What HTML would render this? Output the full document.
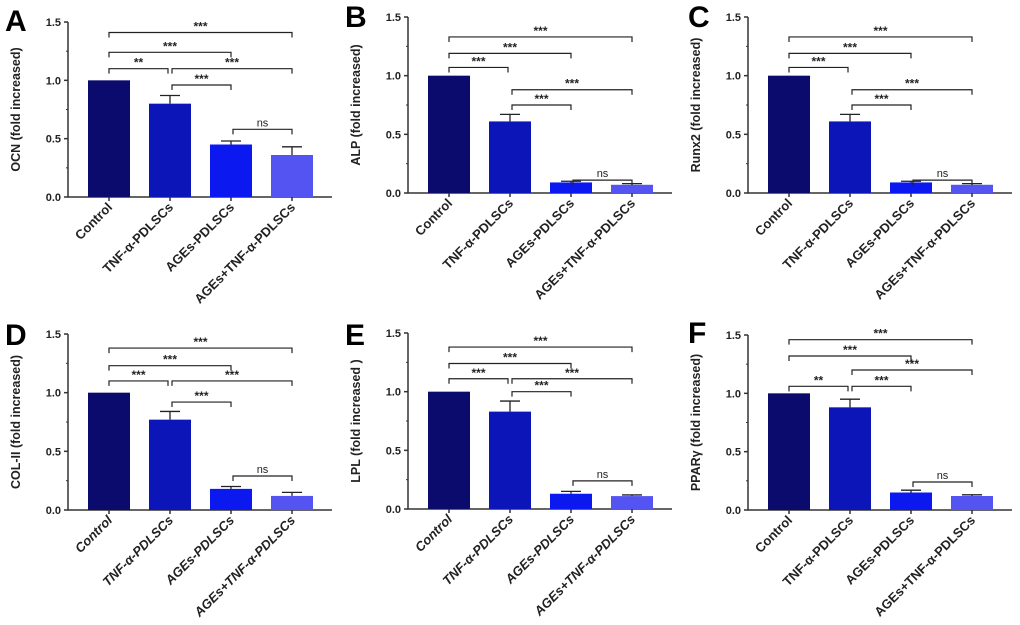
<!DOCTYPE html>
<html><head><meta charset="utf-8"><style>
body{margin:0;background:#fff;width:1020px;height:620px;overflow:hidden}
svg{font-family:"Liberation Sans",Arial,sans-serif;font-weight:bold}
</style></head><body>
<svg id="fig" width="1020" height="620" viewBox="0 0 1020 620" xmlns="http://www.w3.org/2000/svg"></svg>
<script>
const categories=["Control","TNF-α-PDLSCs","AGEs-PDLSCs","AGEs+TNF-α-PDLSCs"];
const colors=["#0b0b6e","#0c16b8","#0c18f0","#5454f2"];
const yTicks=[0,0.5,1.0,1.5];
const yTickLabels=["0.0","0.5","1.0","1.5"];
const letters=["A","B","C","D","E","F"];
const yTitles=["OCN (fold increased)","ALP (fold increased)","Runx2 (fold increased)","COL-II (fold increased)","LPL (fold increased )","PPARγ (fold increased)"];
const meansA=[1.0,0.80,0.45,0.36], errA=[0,0.07,0.03,0.07];
const meansB=[1.0,0.61,0.09,0.07], errB=[0,0.06,0.01,0.01];
const meansC=[1.0,0.61,0.09,0.07], errC=[0,0.06,0.01,0.01];
const meansD=[1.0,0.77,0.18,0.12], errD=[0,0.07,0.02,0.03];
const meansE=[1.0,0.83,0.13,0.11], errE=[0,0.09,0.02,0.01];
const meansF=[1.0,0.88,0.15,0.12], errF=[0,0.07,0.02,0.01];
// brackets: [from, to, level, label]
const brA=[[0,3,1.41,"***"],[0,2,1.24,"***"],[0,1,1.10,"**"],[1,3,1.10,"***"],[1,2,0.96,"***"],[2,3,0.58,"ns"]];
const brB=[[0,3,1.33,"***"],[0,2,1.19,"***"],[0,1,1.07,"***"],[1,3,0.88,"***"],[1,2,0.75,"***"],[2,3,0.11,"ns"]];
const brC=[[0,3,1.33,"***"],[0,2,1.19,"***"],[0,1,1.07,"***"],[1,3,0.88,"***"],[1,2,0.75,"***"],[2,3,0.11,"ns"]];
const brD=[[0,3,1.38,"***"],[0,2,1.23,"***"],[0,1,1.10,"***"],[1,3,1.10,"***"],[1,2,0.92,"***"],[2,3,0.29,"ns"]];
const brE=[[0,3,1.38,"***"],[0,2,1.24,"***"],[0,1,1.11,"***"],[1,3,1.11,"***"],[1,2,1.00,"***"],[2,3,0.24,"ns"]];
const brF=[[0,3,1.46,"***"],[0,2,1.32,"***"],[0,1,1.06,"**"],[1,3,1.20,"***"],[1,2,1.06,"***"],[2,3,0.24,"ns"]];
const allMeans=[meansA,meansB,meansC,meansD,meansE,meansF];
const allErr=[errA,errB,errC,errD,errE,errF];
const allBr=[brA,brB,brC,brD,brE,brF];
const panels=[{ax:68,top:22,bot:197},{ax:408,top:17,bot:193},{ax:748,top:17,bot:193},
{ax:68,top:334,bot:510},{ax:408,top:333,bot:509},{ax:748,top:335,bot:510}];
const italic=[false,false,false,true,true,false];
const letterPos=[[5,31],[345,27],[688,27],[5,345],[345,345],[688,343]];
const NS="http://www.w3.org/2000/svg";
const svg=document.getElementById("fig");
function mk(t,a,p){const e=document.createElementNS(NS,t);for(const k in a)e.setAttribute(k,a[k]);(p||svg).appendChild(e);return e;}
panels.forEach((P,pi)=>{
 const g=mk("g",{});
 
 
 const y=v=>P.bot-(v/1.5)*(P.bot-P.top);
 const x=i=>P.ax+41+i*61;
 const lt=mk("text",{x:letterPos[pi][0],y:letterPos[pi][1],"font-size":30,fill:"#000"},g);lt.textContent=letters[pi];
 
 
 const ax=mk("path",{d:`M${P.ax} ${P.top}V${P.bot}H${P.ax+264}`,stroke:"#333",fill:"none","stroke-width":1.5},g);
 
 
 yTicks.forEach((t,i)=>{mk("line",{x1:P.ax-4,x2:P.ax,y1:y(t),y2:y(t),stroke:"#333","stroke-width":1.5},g);
  const tl=mk("text",{x:P.ax-7,y:y(t)+4,"font-size":11,"text-anchor":"end",fill:"#222"},g);tl.textContent=yTickLabels[i];
  
  
  if(i<3)mk("line",{x1:P.ax-2,x2:P.ax,y1:y(t+0.25),y2:y(t+0.25),stroke:"#333"},g);});
 const yt=mk("text",{transform:`translate(${P.ax-48},${(P.top+P.bot)/2}) rotate(-90)`,"font-size":12.5,"text-anchor":"middle",fill:"#222"},g);yt.textContent=yTitles[pi];
 
 
 const m=allMeans[pi],er=allErr[pi];
 categories.forEach((c,i)=>{
  const b=mk("rect",{x:x(i)-21,y:y(m[i]),width:42,height:P.bot-y(m[i]),fill:colors[i]},g);
  
  
  if(er[i]>0){const e=mk("path",{d:`M${x(i)} ${y(m[i])}V${y(m[i]+er[i])}M${x(i)-10} ${y(m[i]+er[i])}H${x(i)+10}`,stroke:"#222","stroke-width":1.3,fill:"none"},g);
   
   }
  mk("line",{x1:x(i),x2:x(i),y1:P.bot,y2:P.bot+4,stroke:"#333","stroke-width":1.5},g);
  const cl=mk("text",{transform:`translate(${x(i)+4},${P.bot+11}) rotate(-45)`,"font-size":13,"text-anchor":"end",fill:"#222","font-style":italic[pi]?"italic":"normal"},g);cl.textContent=c;
  
  
 });
 allBr[pi].forEach(br=>{
  const yy=y(br[2]),x1=x(br[0])+(br[0]>0?2:0),x2=x(br[1])-(br[1]===1?2:0);
  const p=mk("path",{d:`M${x1} ${yy+5}V${yy}H${x2}V${yy+5}`,stroke:"#222","stroke-width":1.2,fill:"none"},g);
  
  
  const st=mk("text",{x:(x1+x2)/2,y:br[3]=="ns"?yy-3:yy-2,"font-size":br[3]=="ns"?11:12,"font-weight":br[3]=="ns"?"normal":"bold","text-anchor":"middle",fill:"#222"},g);st.textContent=br[3];
  
  
 });
});
</script>
</body></html>
